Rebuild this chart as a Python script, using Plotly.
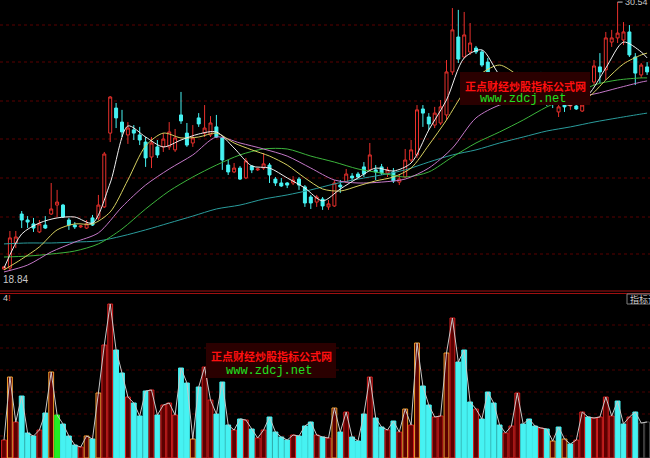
import plotly.graph_objects as go

W, H = 650, 458

# ---------------- data ----------------
bars = list(range(110))
open_ = [18.93, 18.97, 20.06, 21.32, 21.06, 20.89, 20.54, 20.84, 21.32, 21.71,
         21.71, 21.06, 20.84, 20.76, 20.71, 21.15, 21.15, 21.63, 24.84, 25.93,
         25.32, 24.76, 24.98, 24.76, 24.45, 23.80, 24.24, 24.24, 24.24, 24.11,
         25.63, 24.84, 24.41, 25.50, 24.84, 24.76, 25.11, 24.63, 23.45, 23.15,
         23.32, 22.89, 23.41, 23.24, 23.32, 23.45, 22.84, 22.67, 22.67, 22.67,
         22.84, 22.50, 22.06, 21.84, 21.97, 21.63, 21.67, 22.58, 22.71, 22.97,
         23.06, 23.37, 23.24, 23.24, 23.37, 23.10, 23.15, 22.71, 22.93, 23.67,
         23.89, 25.89, 25.54, 25.19, 25.28, 25.63, 27.50, 29.02, 28.15, 28.37,
         28.54, 28.37, 27.93, 26.63, 27.24, 26.98, 26.89, 27.06, 26.19, 26.28,
         26.24, 26.54, 26.28, 26.19, 25.76, 26.06, 26.02, 26.02, 25.80, 26.28,
         27.06, 27.72, 27.59, 28.80, 28.98, 28.89, 29.24, 28.15, 27.37, 27.72]
high = [19.06, 20.58, 20.58, 21.45, 21.23, 21.15, 21.06, 21.23, 22.67, 22.37,
        21.76, 21.15, 20.97, 20.84, 21.06, 21.28, 22.15, 24.02, 26.45, 26.15,
        25.85, 25.32, 25.19, 25.11, 24.67, 24.67, 24.54, 24.84, 25.32, 25.02,
        26.63, 25.28, 25.19, 25.71, 26.06, 25.58, 25.63, 24.67, 23.67, 23.54,
        23.41, 23.76, 23.45, 23.32, 23.97, 23.54, 22.93, 22.89, 22.71, 22.97,
        22.93, 22.58, 22.15, 22.15, 22.06, 21.93, 22.80, 22.80, 23.28, 23.10,
        23.15, 23.58, 24.41, 23.45, 23.50, 23.37, 23.32, 23.02, 24.15, 24.54,
        26.06, 26.06, 25.71, 25.98, 26.28, 28.02, 30.28, 30.20, 30.11, 29.63,
        28.63, 28.46, 28.11, 27.41, 27.41, 27.15, 27.06, 27.50, 26.72, 26.72,
        26.80, 27.50, 26.41, 26.28, 26.28, 26.28, 26.15, 26.15, 26.28, 27.32,
        28.02, 28.32, 29.24, 29.33, 30.54, 29.67, 29.54, 28.32, 27.89, 27.93]
low = [18.89, 18.84, 19.84, 20.71, 20.71, 20.54, 20.49, 20.67, 21.28, 21.19,
       21.15, 20.63, 20.67, 20.71, 20.67, 20.80, 21.06, 21.58, 24.45, 25.06,
       24.67, 24.37, 24.54, 24.32, 23.37, 23.32, 23.76, 24.02, 24.11, 24.02,
       25.24, 24.24, 24.24, 25.11, 24.67, 24.67, 24.63, 23.24, 23.02, 23.10,
       22.80, 22.84, 23.10, 23.19, 23.24, 22.67, 22.54, 22.50, 22.45, 22.58,
       22.37, 21.63, 21.54, 21.63, 21.50, 21.50, 21.63, 22.24, 22.67, 22.80,
       22.89, 22.93, 23.19, 22.80, 23.02, 22.93, 22.67, 22.58, 22.89, 23.58,
       23.76, 25.11, 24.98, 25.06, 25.19, 25.41, 27.37, 27.89, 28.11, 28.24,
       28.28, 27.72, 27.15, 26.50, 26.80, 26.63, 26.45, 26.28, 26.11, 26.15,
       26.15, 26.11, 26.02, 25.93, 25.54, 25.76, 25.85, 25.85, 25.76, 26.11,
       26.93, 27.02, 27.15, 28.59, 28.76, 28.67, 28.15, 26.93, 27.24, 27.37]
close = [19.02, 20.28, 20.32, 21.06, 20.97, 20.71, 20.89, 20.71, 21.54, 21.84,
         21.19, 20.84, 20.76, 20.80, 20.89, 20.84, 21.71, 23.93, 26.41, 25.50,
         24.89, 25.06, 24.84, 24.54, 23.76, 24.41, 23.89, 24.58, 24.89, 24.63,
         25.37, 24.32, 24.63, 25.24, 25.06, 25.28, 24.67, 23.67, 23.15, 23.32,
         22.84, 23.63, 23.24, 23.28, 23.50, 23.02, 22.67, 22.54, 22.58, 22.80,
         22.58, 21.80, 21.80, 22.06, 21.67, 21.76, 22.67, 22.50, 23.06, 22.89,
         22.93, 23.06, 23.89, 23.15, 23.10, 23.24, 22.76, 22.84, 23.67, 24.11,
         25.85, 25.71, 25.24, 25.71, 25.98, 27.50, 29.33, 28.06, 29.11, 28.76,
         28.37, 27.80, 27.24, 27.15, 26.98, 26.80, 26.63, 26.45, 26.37, 26.45,
         26.50, 26.28, 26.19, 26.11, 25.98, 25.98, 26.06, 25.89, 26.06, 27.15,
         27.76, 27.50, 28.98, 28.98, 29.19, 29.24, 28.24, 27.45, 27.80, 27.50]

ind_val = [18, 81, 36, 62, 25, 22, 28, 45, 86, 43, 34, 22, 13, 11, 22, 19, 65, 113, 154, 108,
           85, 61, 55, 42, 67, 68, 43, 53, 55, 43, 90, 75, 19, 71, 91, 58, 44, 76, 33, 28,
           39, 38, 29, 20, 28, 41, 26, 21, 18, 23, 22, 32, 36, 23, 21, 20, 50, 26, 46, 21,
           17, 44, 81, 40, 31, 28, 37, 26, 49, 33, 115, 72, 53, 41, 42, 105, 140, 96, 108, 56,
           49, 39, 66, 55, 33, 25, 32, 65, 34, 39, 32, 30, 29, 17, 31, 19, 14, 18, 46, 41,
           40, 41, 61, 42, 57, 34, 41, 46, 35, 36]
ind_kind = list("uoudddudogdddu" "odouudduddd" "uduuudd" "oduudddudu" "duuddddudd" "dudu" "odudddudd" "uduouoddu" "uouddduddd" "duuudddud" "ododuu" "duuuudd" "ud")

ma_idx3 = list(range(0, 110, 3)) + [109]
ma5 = [18.97, 20.45, 20.93, 21.15, 21.19, 20.93, 22.67, 25.15, 24.67, 24.24,
       24.54, 24.80, 24.89, 24.19, 23.41, 23.32, 22.89, 22.45, 21.89, 22.41,
       22.89, 23.32, 23.19, 23.54, 24.98, 26.28, 28.11, 28.46, 27.37, 26.80,
       26.45, 26.28, 26.06, 26.50, 27.67, 28.80, 28.37, 28.11]
ma10 = [18.89, 19.36, 19.89, 20.63, 20.89, 20.89, 21.41, 22.80, 24.28, 24.84,
        24.63, 24.67, 24.84, 24.41, 24.11, 23.84, 23.45, 22.89, 22.41, 22.32,
        22.54, 22.76, 22.93, 23.32, 24.32, 25.41, 26.63, 27.45, 27.80, 27.37,
        26.80, 26.45, 26.28, 26.41, 27.15, 27.85, 28.24, 28.32]
ma_idx4 = list(range(0, 110, 4)) + [109]
ma20 = [18.80, 19.10, 19.67, 20.10, 20.50, 21.63, 22.58, 23.28, 23.89, 24.67,
        24.41, 24.15, 23.84, 23.32, 22.80, 22.67, 22.71, 22.84, 23.32, 24.19,
        25.50, 26.06, 26.28, 26.37, 26.41, 26.54, 26.80, 27.06, 27.11]
ma30 = [19.45, 19.49, 19.58, 19.71, 20.02, 20.67, 21.54, 22.32, 22.93, 23.45,
        23.89, 24.15, 24.15, 23.84, 23.58, 23.28, 23.10, 22.93, 23.15, 23.80,
        24.41, 24.89, 25.41, 25.98, 26.41, 26.93, 27.15, 27.24, 27.24]
ma60 = [20.02, 20.06, 20.06, 20.10, 20.15, 20.36, 20.63, 20.93, 21.23, 21.54,
        21.71, 21.97, 22.15, 22.37, 22.63, 22.84, 23.02, 23.24, 23.58, 23.89,
        24.11, 24.41, 24.67, 24.93, 25.11, 25.32, 25.50, 25.67, 25.71]

watermark_cn = "正点财经炒股指标公式网"
watermark_url = "www.zdcj.net"

# ---------------- helpers (layout only) ----------------
def fx(p):
    return p / W

def fy(p):
    return 1 - p / H

UP = "#e8302c"
DOWN = "#46f2f2"

fig = go.Figure()

fig.add_trace(go.Candlestick(
    x=bars, open=open_, high=high, low=low, close=close,
    increasing=dict(line=dict(color=UP, width=1), fillcolor="#000000"),
    decreasing=dict(line=dict(color=DOWN, width=1), fillcolor=DOWN),
    whiskerwidth=0, hoverinfo="skip", xaxis="x", yaxis="y", showlegend=False))

for xs, ys, col in [(ma_idx4, ma60, "#2a9c9c"), (ma_idx4, ma30, "#3cb43c"),
                    (ma_idx4, ma20, "#c478c8"), (ma_idx3, ma10, "#d6d060"),
                    (ma_idx3, ma5, "#f0f0f0")]:
    fig.add_trace(go.Scatter(x=xs, y=ys, mode="lines",
                             line=dict(color=col, width=1, shape="spline", smoothing=0.8),
                             hoverinfo="skip", showlegend=False, xaxis="x", yaxis="y"))

fill_map = {"u": "#5c0000", "d": DOWN, "o": "#5c0000", "g": "#22ee22"}
edge_map = {"u": "#d42020", "d": DOWN, "o": "#f0a030", "g": "#22ee22"}
fig.add_trace(go.Bar(x=bars, y=ind_val, width=0.82,
                     marker=dict(color=[fill_map[k] for k in ind_kind],
                                 line=dict(color=[edge_map[k] for k in ind_kind], width=1)),
                     hoverinfo="skip", showlegend=False, xaxis="x2", yaxis="y2"))
fig.add_trace(go.Scatter(x=bars, y=ind_val, mode="lines",
                         line=dict(color="#c8c8c8", width=1),
                         hoverinfo="skip", showlegend=False, xaxis="x2", yaxis="y2"))

shapes = []
for gy in [25, 62, 101, 139, 178, 217, 254]:
    shapes.append(dict(type="line", xref="paper", yref="paper", x0=0, x1=1, y0=fy(gy), y1=fy(gy),
                       line=dict(color="#5a0000", width=1, dash="dot"), layer="below"))
for gy in [325, 348, 370, 392, 414, 436]:
    shapes.append(dict(type="line", xref="paper", yref="paper", x0=0, x1=1, y0=fy(gy), y1=fy(gy),
                       line=dict(color="#4a0000", width=1, dash="dot"), layer="below"))
for gy, c in [(291, "#a01010"), (293.5, "#a01010")]:
    shapes.append(dict(type="line", xref="paper", yref="paper", x0=0, x1=1, y0=fy(gy), y1=fy(gy),
                       line=dict(color=c, width=1), layer="above"))
for (x0, y0, x1, y1) in [(460, 72, 590, 105), (206, 343, 336, 378)]:
    shapes.append(dict(type="rect", xref="paper", yref="paper", x0=fx(x0), x1=fx(x1),
                       y0=fy(y1), y1=fy(y0), fillcolor="#2a0000", line=dict(width=0), layer="above"))
shapes.append(dict(type="rect", xref="paper", yref="paper", x0=fx(627), x1=fx(651),
                   y0=fy(304), y1=fy(294), fillcolor="#000000",
                   line=dict(color="#808080", width=1), layer="above"))

ann = []
for (cx, cy1, cy2) in [(525, 86, 99.5), (271, 356, 370.5)]:
    ann.append(dict(xref="paper", yref="paper", x=fx(cx), y=fy(cy1), text=f"<b>{watermark_cn}</b>",
                    showarrow=False, font=dict(family="Noto Sans CJK SC", size=11, color="#ff1010"),
                    xanchor="center", yanchor="middle"))
    ann.append(dict(xref="paper", yref="paper", x=fx(cx - 2), y=fy(cy2), text=watermark_url,
                    showarrow=False, font=dict(family="Liberation Mono", size=12, color="#20e020"),
                    xanchor="center", yanchor="middle"))

imin = low.index(min(low))
imax = high.index(max(high))
ann.append(dict(x=imin, y=min(low), xref="x", yref="y", text=f"{min(low):.2f}", showarrow=False,
                xanchor="left", yanchor="top", xshift=-9, yshift=-1,
                font=dict(family="Liberation Sans", size=10, color="#c8c8c8")))
ann.append(dict(x=imax, y=max(high), xref="x", yref="y", text=f"{max(high):.2f}", showarrow=True,
                arrowhead=0, arrowcolor="#c8c8c8", arrowwidth=1, ax=5, ay=0,
                xanchor="left", yanchor="middle",
                font=dict(family="Liberation Sans", size=9, color="#c8c8c8")))
ann.append(dict(xref="paper", yref="paper", x=fx(628), y=fy(299), text="指标说", showarrow=False,
                font=dict(family="Noto Sans CJK SC", size=9, color="#d0d0d0"),
                xanchor="left", yanchor="middle"))
ann.append(dict(xref="paper", yref="paper", x=fx(1), y=fy(298), text="4<span style='color:#ff3030'>!</span>",
                showarrow=False, font=dict(family="Liberation Sans", size=9, color="#d0d0d0"),
                xanchor="left", yanchor="middle"))

xr = [-4 / 5.9, (650 - 4) / 5.9]
fig.update_layout(
    width=W, height=H, margin=dict(l=0, r=0, t=0, b=0),
    paper_bgcolor="#000000", plot_bgcolor="#000000",
    showlegend=False, boxgap=0.28,
    xaxis=dict(domain=[0, 1], range=xr, visible=False, rangeslider=dict(visible=False), anchor="y"),
    xaxis2=dict(domain=[0, 1], range=xr, visible=False, matches="x", anchor="y2"),
    yaxis=dict(domain=[fy(291), 1], range=[30.63 - 0.0435 * 291, 30.63], visible=False),
    yaxis2=dict(domain=[0, fy(293)], range=[0, 165], visible=False),
    shapes=shapes, annotations=ann,
)

fig.write_html("out.html", config={"displayModeBar": False},
               post_script="document.body.style.margin='0';document.body.style.padding='0';"
                           "document.body.style.background='#000';document.body.style.overflow='hidden';")
